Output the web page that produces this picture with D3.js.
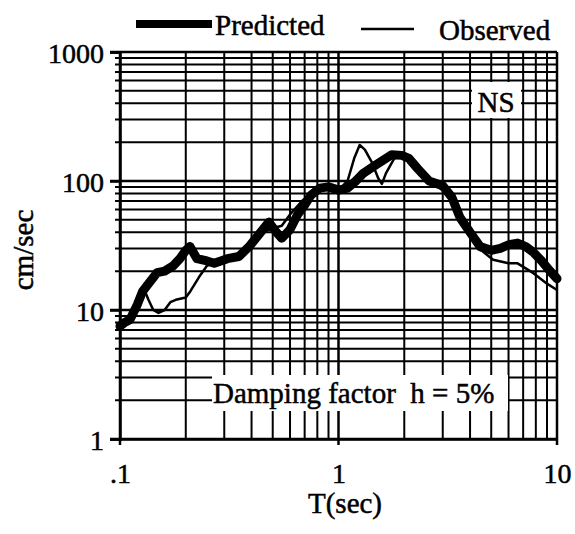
<!DOCTYPE html>
<html><head><meta charset="utf-8">
<script src="https://cdn.jsdelivr.net/npm/d3@7"></script>
<style>
html,body{margin:0;padding:0;background:#fff;}
svg text{font-family:"Liberation Serif","Times New Roman",Times,"DejaVu Serif",serif !important;fill:#000;stroke:#000;stroke-width:0.5px;}
</style></head>
<body><svg id="c" width="575" height="534"></svg>
<script>
// ---- data ----
const xTickValues = [0.1, 1, 10];
const xTickLabels = [".1", "1", "10"];
const yTickValues = [1, 10, 100, 1000];
const yTickLabels = ["1", "10", "100", "1000"];

const predictedT = [0.100,0.105,0.111,0.120,0.127,0.135,0.148,0.160,0.175,0.188,0.200,0.209,0.225,0.250,0.270,0.310,0.350,0.390,0.440,0.480,0.520,0.550,0.600,0.650,0.700,0.750,0.820,0.900,1.00,1.10,1.20,1.30,1.45,1.60,1.75,1.95,2.10,2.30,2.60,3.00,3.30,3.60,4.00,4.45,5.00,5.50,6.00,6.60,7.20,7.80,8.50,9.30,10.0];
const predictedV = [7.5,8.0,8.4,11,14,16,19.5,20,22,25,29,31,25,24,23,25,26,31,40,48,40,36,42,55,65,78,88,90,85,88,100,115,130,145,160,158,150,125,100,92,75,52,40,31,29,30,32,33,31,28,24,20,17.5];

const observedT = [0.100,0.105,0.115,0.125,0.130,0.135,0.142,0.150,0.160,0.170,0.180,0.200,0.210,0.230,0.250,0.280,0.320,0.360,0.400,0.450,0.500,0.550,0.600,0.680,0.750,0.850,1.00,1.10,1.18,1.25,1.32,1.42,1.52,1.58,1.65,1.80,2.00,2.20,2.50,3.00,3.50,3.90,4.40,5.10,6.00,6.60,7.80,9.00,10.0];
const observedV = [8,7.5,10,13,14,12,10,9.5,10,11.5,12,12.5,14,18,22,24,25,28,33,40,43,45,55,70,80,88,85,100,150,190,175,140,105,95,115,150,155,135,105,85,60,40,30,24.5,23,23,19.3,16,14.3];

const legendLabels = ["Predicted", "Observed"];

// ---- layout ----
const FONT = '"Liberation Serif","Times New Roman",Times,"DejaVu Serif",serif';
const svg = d3.select("#c");
const x = d3.scaleLog().domain([0.1, 10]).range([120, 557]);
const y = d3.scaleLog().domain([1, 1000]).range([439, 52]);

// grid values
const gx = [], gy = [];
[0.1, 1].forEach(d => { for (let k = 1; k <= 9; k++) gx.push(+(d * k).toPrecision(3)); });
gx.push(10);
[1, 10, 100].forEach(d => { for (let k = 1; k <= 9; k++) gy.push(d * k); });
gy.push(1000);

const isMajor = v => Math.abs(Math.log10(v) - Math.round(Math.log10(v))) < 1e-9;

const grid = svg.append("g");
grid.selectAll("line.v").data(gx).join("line")
  .attr("x1", d => x(d)).attr("x2", d => x(d))
  .attr("y1", y(1000)).attr("y2", d => isMajor(d) ? y(1) + 6 : y(1))
  .attr("stroke", "#000").attr("stroke-width", d => isMajor(d) ? 2.5 : 2);
grid.selectAll("line.h").data(gy).join("line")
  .attr("x1", d => isMajor(d) ? x(0.1) - 10 : x(0.1) - 5).attr("x2", x(10))
  .attr("y1", d => y(d)).attr("y2", d => y(d))
  .attr("stroke", "#000").attr("stroke-width", d => isMajor(d) ? 2.5 : 2);

// white label boxes (hide grid behind labels)
svg.append("rect").attr("x", 472).attr("y", 82).attr("width", 49).attr("height", 36).attr("fill", "#fff");
svg.append("rect").attr("x", 212).attr("y", 375).attr("width", 296).attr("height", 36).attr("fill", "#fff");

svg.append("text").attr("x", 496).attr("y", 112).attr("text-anchor", "middle")
  .attr("font-family", FONT).attr("font-size", 29).text("NS");
svg.append("text").attr("x", 213).attr("y", 403)
  .attr("font-family", FONT).attr("font-size", 29).style("white-space", "pre")
  .text("Damping factor  h = 5%");

// axes
const yAxis = d3.axisLeft(y).tickValues(yTickValues).tickFormat((d, i) => yTickLabels[i]).tickSize(10).tickPadding(6);
const gY = svg.append("g").attr("transform", `translate(${x(0.1)},0)`).call(yAxis).attr("font-family", FONT);
gY.select(".domain").attr("stroke", "#000").attr("stroke-width", 2.5);
gY.selectAll(".tick line").attr("stroke", "#000").attr("stroke-width", 2.5);
gY.selectAll(".tick text").attr("font-size", 28).attr("dy", "0.38em");

const xAxis = d3.axisBottom(x).tickValues(xTickValues).tickFormat((d, i) => xTickLabels[i]).tickSize(0).tickPadding(24);
const gX = svg.append("g").attr("transform", `translate(0,${y(1)})`).call(xAxis).attr("font-family", FONT);
gX.select(".domain").attr("stroke", "#000").attr("stroke-width", 2.5);
gX.selectAll(".tick text").attr("font-size", 28);

// curves
const line = d3.line().x(d => x(d[0])).y(d => y(d[1]));
const predicted = predictedT.map((t, i) => [t, predictedV[i]]);
const observed = observedT.map((t, i) => [t, observedV[i]]);

svg.append("path").datum(predicted).attr("d", line).attr("fill", "none")
  .attr("stroke", "#000").attr("stroke-width", 9).attr("stroke-linejoin", "round").attr("stroke-linecap", "round");
svg.append("path").datum(observed).attr("d", line).attr("fill", "none")
  .attr("stroke", "#000").attr("stroke-width", 2.5).attr("stroke-linejoin", "round");

// axis titles
svg.append("text").attr("transform", "translate(33,250) rotate(-90)").attr("text-anchor", "middle")
  .attr("font-family", FONT).attr("font-size", 29).text("cm/sec");
svg.append("text").attr("x", 345).attr("y", 513).attr("text-anchor", "middle")
  .attr("font-family", FONT).attr("font-size", 29).text("T(sec)");

// legend
const lg = svg.append("g").attr("font-family", FONT);
lg.append("line").attr("x1", 136).attr("x2", 212).attr("y1", 24).attr("y2", 24)
  .attr("stroke", "#000").attr("stroke-width", 8);
lg.append("text").attr("x", 215).attr("y", 35).attr("font-size", 29).text(legendLabels[0]);
lg.append("line").attr("x1", 361).attr("x2", 414).attr("y1", 29).attr("y2", 29)
  .attr("stroke", "#000").attr("stroke-width", 2.5);
lg.append("text").attr("x", 439).attr("y", 40).attr("font-size", 29).text(legendLabels[1]);
</script></body></html>
